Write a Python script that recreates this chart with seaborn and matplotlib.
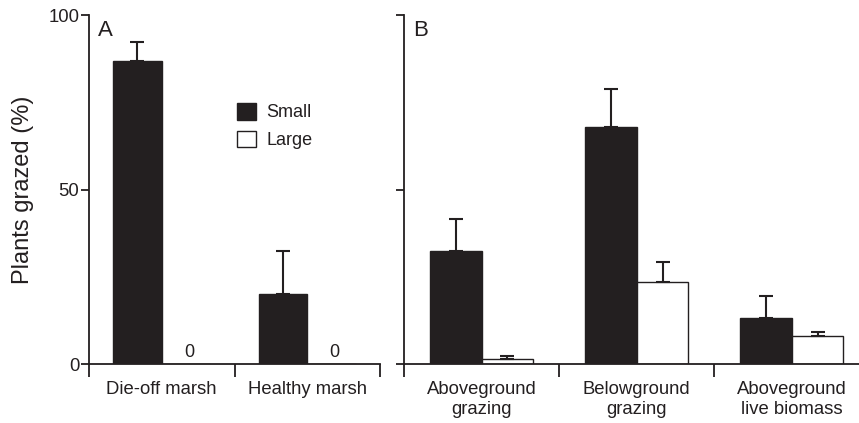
import numpy as np
import pandas as pd
import matplotlib
matplotlib.use("Agg")
import matplotlib.pyplot as plt
import seaborn as sns

# panel A
sites = ["Die-off marsh", "Healthy marsh"]
a_small = [86.9, 20.1]
a_small_se = [5.4, 12.4]
a_large = [0.0, 0.0]
a_large_se = [0.0, 0.0]

# panel B
measures = ["Aboveground\ngrazing", "Belowground\ngrazing", "Aboveground\nlive biomass"]
b_small = [32.4, 68.1, 13.3]
b_small_se = [9.2, 10.8, 6.2]
b_large = [1.3, 23.6, 8.1]
b_large_se = [1.0, 5.8, 1.0]

sizes = ["Small", "Large"]
ink = "#231f20"

def long_df(cats, small, large):
    return pd.DataFrame({
        "cat": list(cats) * 2,
        "size": ["Small"] * len(cats) + ["Large"] * len(cats),
        "val": list(small) + list(large),
    })

sns.set_theme(style="ticks")
plt.rcParams["font.family"] = ["Liberation Sans", "DejaVu Sans"]
plt.rcParams["axes.edgecolor"] = ink
plt.rcParams["text.color"] = ink
plt.rcParams["xtick.color"] = ink
plt.rcParams["ytick.color"] = ink
plt.rcParams["axes.labelcolor"] = ink

fig = plt.figure(figsize=(8.59, 4.23), dpi=100)
ax_a = fig.add_axes([89 / 859, 1 - 364 / 423, 291 / 859, 348.5 / 423])
ax_b = fig.add_axes([404 / 859, 1 - 364 / 423, 455 / 859, 348.5 / 423])

pal = {"Small": ink, "Large": "white"}

def panel(ax, cats, small, small_se, large, large_se, letter, xmax):
    df = long_df(cats, small, large)
    sns.barplot(data=df, x="cat", y="val", hue="size", hue_order=sizes,
                order=cats, palette=pal, width=0.67, errorbar=None,
                edgecolor=ink, linewidth=1.0, saturation=1, ax=ax,
                legend=(letter == "A"))
    for cont, se in zip(ax.containers, [small_se, large_se]):
        xs = [p.get_x() + p.get_width() / 2 for p in cont.patches]
        hs = [p.get_height() for p in cont.patches]
        keep = [i for i, s in enumerate(se) if s > 0]
        if keep:
            ax.errorbar([xs[i] for i in keep], [hs[i] for i in keep],
                        yerr=[[0] * len(keep), [se[i] for i in keep]],
                        fmt="none", ecolor=ink, elinewidth=1.5,
                        capsize=5, capthick=1.5, zorder=1)
    ax.set_yticks([0, 50, 100])
    ax.set_xticks(np.arange(len(cats) + 1) - 0.5)
    ax.set_xticklabels([])
    ax.set_xticks(np.arange(len(cats)), labels=cats, minor=True)
    ax.set_xlim(-0.5, xmax)
    ax.set_ylim(0, 100)
    ax.tick_params(axis="x", which="major", length=9, width=1.3, direction="out")
    ax.tick_params(axis="x", which="minor", length=0, pad=12.5, labelsize=13.3)
    ax.tick_params(axis="y", length=6, width=1.3, labelsize=13.3, pad=1)
    for s in ["left", "bottom"]:
        ax.spines[s].set_linewidth(1.3)
    sns.despine(ax=ax)
    ax.set_xlabel("")
    ax.set_ylabel("")
    ax.annotate(letter, (0, 1), xycoords="axes fraction", xytext=(6.5, -3.5),
                textcoords="offset points", fontsize=16, ha="left", va="top")

panel(ax_a, sites, a_small, a_small_se, a_large, a_large_se, "A", 1.5)
panel(ax_b, measures, b_small, b_small_se, b_large, b_large_se, "B", 2.435)
ax_b.set_yticklabels([])

# zero labels for missing large-snail bars
for p, v in zip(ax_a.containers[1].patches, a_large):
    if v == 0:
        ax_a.annotate("0", (p.get_x() + p.get_width() / 2, 0),
                      xytext=(2, 2), textcoords="offset points",
                      ha="center", va="bottom", fontsize=13)

ax_a.set_ylabel("Plants grazed (%)", fontsize=17)
ax_a.yaxis.set_label_coords(-0.19, 0.5)

sns.move_legend(ax_a, "upper left", bbox_to_anchor=(0.478, 0.775),
                title=None, frameon=False, fontsize=13, borderpad=0,
                handlelength=1.07, handleheight=1.05, handletextpad=0.55,
                labelspacing=0.5)

fig.savefig("out.png", dpi=100)
